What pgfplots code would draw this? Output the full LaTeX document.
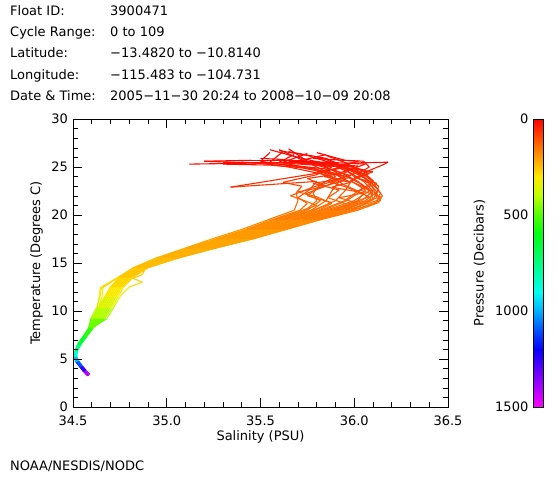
\documentclass[border=0pt]{standalone}
\usepackage{fontspec}
\setmainfont{DejaVu Sans}
\usepackage{pgfplots}
\pgfplotsset{compat=1.18}
\pgfplotsset{
  colormap={idl}{rgb255=(255,0,0) rgb255=(255,78,0) rgb255=(255,155,0) rgb255=(255,232,0) rgb255=(190,255,0) rgb255=(80,255,0) rgb255=(0,255,17) rgb255=(0,255,92) rgb255=(0,255,167) rgb255=(0,255,242) rgb255=(0,176,255) rgb255=(0,82,255) rgb255=(10,0,255) rgb255=(92,0,255) rgb255=(173,0,255) rgb255=(255,0,255)},
  prof/.style={mesh, point meta=explicit, line width=1.1bp, forget plot},
}
\begin{document}
\fontsize{13bp}{15bp}\selectfont
\begin{tikzpicture}
\path[use as bounding box] (0,0) rectangle (560bp,-480bp);
\tikzset{txt/.style={anchor=base west, inner sep=0pt}}
\node[txt] at (10bp,-15bp) {Float ID:};
\node[txt] at (110bp,-15bp) {3900471};
\node[txt] at (10bp,-36.3bp) {Cycle Range:};
\node[txt] at (110bp,-36.3bp) {0 to 109};
\node[txt] at (10bp,-57.6bp) {Latitude:};
\node[txt] at (110bp,-57.6bp) {−13.4820 to −10.8140};
\node[txt] at (10bp,-79bp) {Longitude:};
\node[txt] at (110bp,-79bp) {−115.483 to −104.731};
\node[txt] at (10bp,-100.3bp) {Date \& Time:};
\node[txt] at (110bp,-100.3bp) {2005−11−30 20:24 to 2008−10−09 20:08};
\node[txt] at (10bp,-470bp) {NOAA/NESDIS/NODC};
\begin{axis}[
  at={(73bp,-407bp)}, anchor=south west,
  scale only axis, width=375bp, height=288bp,
  xmin=34.5, xmax=36.5, ymin=0, ymax=30,
  xtick={34.5,35,35.5,36,36.5}, ytick={0,5,10,15,20,25,30},
  minor x tick num=4, minor y tick num=4,
  axis on top,
  major tick length=0.32cm, minor tick length=0.16cm,
  tick style={black, semithick},
  /pgf/number format/assume math mode=true,
  x tick label style={/pgf/number format/fixed, /pgf/number format/fixed zerofill, /pgf/number format/precision=1, anchor=base, yshift=-18bp, inner sep=0pt},
  yticklabel style={anchor=east, inner sep=0pt, xshift=-5bp},
  xlabel={Salinity (PSU)}, ylabel={Temperature (Degrees C)},
  xlabel style={at={(axis description cs:0.5,-0.118)}, anchor=base},
  ylabel style={at={(axis description cs:-0.0973,0.5)}, anchor=center},
  colormap name=idl, point meta min=0, point meta max=1500,
  colorbar,
  colorbar style={
    at={(parent axis.north east)}, anchor=north west, xshift=77bp,
    width=10bp, y dir=reverse,
    ytick={0,500,1000,1500}, yticklabels={0,500,1000,1500},
    yticklabel pos=left, ytick style={draw=none}, minor tick num=0,
    yticklabel style={anchor=east, inner sep=0pt, xshift=-5bp},
    ylabel={Pressure (Decibars)},
    ylabel style={at={(axis description cs:-5.4,0.5)}, anchor=center},
  },
]
% profile 1
\addplot[prof] coordinates {(34.58,3.3)[1480] (34.56,3.7)[1330] (34.54,4.2)[1170] (34.52,4.7)[1040] (34.51,5.2)[930] (34.515,5.8)[800] (34.53,6.5)[690] (34.56,7.3)[590] (34.59,8.2)[510] (34.62,9.2)[440] (34.655,10.3)[380] (34.69,11.5)[320] (34.72,12.5)[290] (34.77,13.5)[265] (34.86,14.5)[250] (35.00,15.5)[235] (35.17,16.5)[220] (35.35,17.5)[205] (35.52,18.5)[190] (35.68,19.5)[170] (35.85,20.5)[150] (36.00,21.5)[130] (36.08,22.5)[100] (36.02,23.5)[70] (35.92,24.5)[45] (35.80,25.2)[22] (35.70,25.6)[8]};
% profile 2
\addplot[prof] coordinates {(34.585,3.3)[1490] (34.565,3.7)[1330] (34.545,4.2)[1170] (34.525,4.7)[1040] (34.515,5.2)[930] (34.52,5.8)[800] (34.535,6.5)[690] (34.565,7.3)[590] (34.6,8.2)[510] (34.65,9.2)[440] (34.685,10.3)[380] (34.72,11.5)[320] (34.75,12.5)[290] (34.80,13.5)[265] (34.88,14.5)[250] (35.04,15.5)[235] (35.23,16.5)[220] (35.42,17.5)[205] (35.60,18.5)[190] (35.78,19.5)[170] (35.96,20.5)[150] (36.12,21.5)[130] (36.14,22.3)[108] (36.10,23.2)[78] (36.05,24.0)[54] (35.98,24.8)[33] (35.90,25.4)[15] (35.85,25.5)[6]};
% profile 3
\addplot[prof] coordinates {(34.57,3.5)[1400] (34.555,3.9)[1250] (34.535,4.4)[1110] (34.515,5.0)[970] (34.51,5.6)[840] (34.52,6.3)[720] (34.55,7.1)[610] (34.58,8.0)[525] (34.60,9.2)[440] (34.635,10.3)[380] (34.67,11.5)[320] (34.70,12.5)[290] (34.75,13.5)[265] (34.84,14.5)[250] (34.96,15.5)[235] (35.11,16.5)[220] (35.28,17.5)[205] (35.44,18.5)[190] (35.58,19.5)[170] (35.74,20.5)[150] (35.80,21.5)[130] (35.78,22.3)[108] (35.82,23.2)[85] (35.90,24.0)[62] (35.85,24.8)[38] (35.60,25.3)[18] (35.40,25.5)[8]};
% profile 4
\addplot[prof] coordinates {(34.59,3.4)[1460] (34.57,3.8)[1310] (34.55,4.3)[1150] (34.53,4.8)[1020] (34.52,5.3)[910] (34.525,5.9)[790] (34.545,6.6)[680] (34.575,7.4)[585] (34.61,8.3)[505] (34.67,9.2)[440] (34.705,10.3)[380] (34.74,11.5)[320] (34.77,12.5)[290] (34.82,13.5)[265] (34.90,14.5)[250] (35.06,15.5)[235] (35.25,16.5)[220] (35.46,17.5)[205] (35.64,18.5)[190] (35.82,19.5)[170] (36.02,20.5)[150] (36.13,21.3)[135] (36.15,22.0)[115] (36.12,22.8)[93] (36.10,23.6)[70] (36.05,24.4)[45] (36.15,25.2)[22] (36.18,25.5)[12] (35.95,25.4)[5]};
% profile 5
\addplot[prof] coordinates {(34.575,3.3)[1480] (34.555,3.7)[1330] (34.535,4.2)[1170] (34.515,4.7)[1040] (34.505,5.2)[930] (34.51,5.8)[800] (34.525,6.5)[690] (34.555,7.3)[590] (34.585,8.2)[510] (34.61,9.2)[440] (34.63,10.3)[380] (34.64,11.5)[320] (34.645,12.4)[295] (34.74,13.5)[265] (34.82,14.5)[250] (34.94,15.5)[235] (35.09,16.5)[220] (35.24,17.5)[205] (35.40,18.5)[190] (35.54,19.5)[170] (35.68,20.5)[150] (35.70,21.5)[135] (35.69,22.3)[115] (35.72,23.0)[93] (35.62,23.4)[78] (35.80,24.2)[62] (35.88,25.0)[38] (35.75,25.5)[18] (35.12,25.3)[5]};
% profile 6
\addplot[prof] coordinates {(34.545,4.0)[1230] (34.525,4.6)[1070] (34.512,5.1)[950] (34.515,5.7)[820] (34.53,6.4)[700] (34.56,7.2)[600] (34.595,8.1)[515] (34.63,9.2)[440] (34.665,10.3)[380] (34.70,11.5)[320] (34.73,12.5)[290] (34.78,13.5)[265] (34.87,14.5)[250] (35.02,15.5)[235] (35.20,16.5)[220] (35.39,17.5)[205] (35.56,18.5)[190] (35.73,19.5)[170] (35.91,20.5)[150] (36.06,21.5)[130] (36.12,22.4)[105] (36.08,23.3)[78] (36.00,24.0)[58] (35.94,24.9)[33] (35.85,25.8)[15] (35.80,26.0)[6]};
% profile 7
\addplot[prof] coordinates {(34.585,3.35)[1470] (34.565,3.75)[1320] (34.545,4.25)[1160] (34.525,4.75)[1030] (34.515,5.25)[920] (34.52,5.85)[795] (34.535,6.55)[685] (34.565,7.35)[585] (34.595,8.25)[505] (34.64,9.2)[440] (34.675,10.3)[380] (34.71,11.5)[320] (34.74,12.5)[290] (34.79,13.5)[265] (34.85,14.5)[250] (34.98,15.5)[235] (35.14,16.5)[220] (35.31,17.5)[205] (35.48,18.5)[190] (35.63,19.5)[170] (35.79,20.5)[150] (35.90,21.5)[130] (35.95,22.5)[105] (35.98,23.4)[80] (35.90,24.2)[58] (35.70,25.0)[33] (35.50,25.6)[15] (35.55,26.5)[5]};
% profile 8
\addplot[prof] coordinates {(34.565,3.6)[1370] (34.545,4.1)[1200] (34.525,4.6)[1070] (34.51,5.1)[950] (34.512,5.7)[820] (34.527,6.4)[705] (34.555,7.2)[600] (34.585,8.1)[515] (34.61,9.2)[440] (34.645,10.3)[380] (34.68,11.5)[320] (34.71,12.5)[290] (34.76,13.5)[265] (34.89,14.5)[250] (35.05,15.5)[235] (35.24,16.5)[220] (35.44,17.5)[205] (35.62,18.5)[190] (35.80,19.5)[170] (35.99,20.5)[150] (36.10,21.6)[130] (36.13,22.6)[100] (36.08,23.5)[75] (36.02,24.3)[52] (36.08,25.0)[30] (36.05,25.6)[15] (35.95,25.7)[6] (35.80,26.5)[2]};
% profile 9
\addplot[prof] coordinates {(34.58,3.3)[1480] (34.56,3.7)[1330] (34.54,4.2)[1170] (34.52,4.7)[1040] (34.51,5.2)[930] (34.515,5.8)[800] (34.53,6.5)[690] (34.56,7.3)[590] (34.59,8.2)[510] (34.66,9.2)[440] (34.695,10.3)[380] (34.73,11.5)[320] (34.76,12.5)[290] (34.81,13.5)[265] (34.83,14.5)[250] (34.95,15.5)[235] (35.10,16.5)[220] (35.26,17.5)[205] (35.42,18.5)[190] (35.56,19.5)[170] (35.71,20.5)[150] (35.75,21.2)[138] (35.70,21.8)[122] (35.76,22.6)[100] (35.80,23.5)[78] (35.34,22.9)[65] (35.85,24.5)[45] (35.75,25.5)[22] (35.60,26.8)[6]};
% profile 10
\addplot[prof] coordinates {(34.525,4.5)[1090] (34.512,5.0)[970] (34.51,5.6)[840] (34.52,6.3)[720] (34.55,7.1)[610] (34.58,8.0)[525] (34.595,9.2)[440] (34.625,10.3)[380] (34.645,11.5)[320] (34.65,12.3)[300] (34.74,13.5)[265] (34.87,14.5)[250] (35.01,15.5)[235] (35.18,16.5)[220] (35.37,17.5)[205] (35.54,18.5)[190] (35.70,19.5)[170] (35.88,20.5)[150] (36.02,21.5)[130] (36.06,22.6)[100] (35.98,23.6)[75] (36.08,24.3)[52] (36.00,25.0)[30] (35.70,25.7)[12] (35.40,25.7)[5]};
% profile 11
\addplot[prof] coordinates {(34.58,3.25)[1500] (34.56,3.65)[1340] (34.54,4.15)[1180] (34.52,4.65)[1050] (34.51,5.15)[940] (34.515,5.75)[805] (34.53,6.45)[695] (34.56,7.25)[595] (34.595,8.15)[512] (34.68,9.2)[440] (34.715,10.3)[380] (34.75,11.5)[320] (34.80,12.5)[290] (34.87,13.0)[275] (34.82,13.4)[265] (34.87,13.8)[260] (34.89,14.6)[250] (34.99,15.5)[235] (35.16,16.5)[220] (35.33,17.5)[205] (35.50,18.5)[190] (35.66,19.5)[170] (35.82,20.5)[150] (35.95,21.5)[130] (36.02,22.5)[102] (36.10,23.4)[78] (36.05,24.3)[54] (35.95,25.0)[33] (35.85,25.9)[15] (35.65,26.6)[5]};
% profile 12
\addplot[prof] coordinates {(34.56,3.8)[1300] (34.54,4.3)[1150] (34.52,4.8)[1020] (34.512,5.3)[910] (34.518,5.9)[790] (34.535,6.6)[680] (34.565,7.4)[585] (34.595,8.3)[505] (34.62,9.2)[440] (34.655,10.3)[380] (34.69,11.5)[320] (34.72,12.5)[290] (34.77,13.5)[265] (34.88,14.5)[250] (35.03,15.5)[235] (35.21,16.5)[220] (35.40,17.5)[205] (35.58,18.5)[190] (35.75,19.5)[170] (35.93,20.5)[150] (36.08,21.5)[130] (36.10,22.4)[105] (36.04,23.2)[80] (35.96,24.0)[62] (36.05,24.7)[42] (35.92,25.3)[22] (35.60,25.8)[9] (35.50,25.9)[3]};
% profile 13
\addplot[prof] coordinates {(34.58,3.3)[1480] (34.56,3.7)[1330] (34.54,4.2)[1170] (34.52,4.7)[1040] (34.51,5.2)[930] (34.515,5.8)[800] (34.53,6.5)[690] (34.56,7.3)[590] (34.59,8.2)[510] (34.61,9.2)[440] (34.645,10.3)[380] (34.68,11.5)[320] (34.71,12.5)[290] (34.76,13.5)[265] (34.84,14.5)[250] (34.97,15.5)[235] (35.13,16.5)[220] (35.30,17.5)[205] (35.46,18.5)[190] (35.61,19.5)[170] (35.77,20.5)[150] (35.85,21.5)[130] (35.88,22.5)[105] (35.92,23.5)[80] (35.82,24.3)[58] (35.65,25.0)[38] (35.50,25.4)[21] (35.20,25.6)[9] (35.45,25.7)[3]};
% profile 14
\addplot[prof] coordinates {(34.54,4.2)[1170] (34.52,4.7)[1040] (34.512,5.2)[930] (34.518,5.8)[800] (34.535,6.5)[690] (34.565,7.3)[590] (34.60,8.2)[510] (34.64,9.2)[440] (34.675,10.3)[380] (34.71,11.5)[320] (34.74,12.5)[290] (34.79,13.5)[265] (34.89,14.5)[250] (35.05,15.5)[235] (35.23,16.5)[220] (35.43,17.5)[205] (35.61,18.5)[190] (35.79,19.5)[170] (35.98,20.5)[150] (36.12,21.8)[126] (36.10,22.8)[96] (36.06,23.8)[70] (35.98,24.6)[45] (35.90,25.3)[24] (35.75,26.2)[9] (35.60,26.7)[3]};
% profile 15
\addplot[prof] coordinates {(34.585,3.3)[1480] (34.565,3.7)[1330] (34.545,4.2)[1170] (34.525,4.7)[1040] (34.515,5.2)[930] (34.52,5.8)[800] (34.535,6.5)[690] (34.565,7.3)[590] (34.60,8.2)[510] (34.65,9.2)[440] (34.685,10.3)[380] (34.72,11.5)[320] (34.75,12.5)[290] (34.80,13.5)[265] (34.85,14.5)[250] (34.98,15.5)[235] (35.14,16.5)[220] (35.31,17.5)[205] (35.47,18.5)[190] (35.62,19.5)[170] (35.78,20.5)[150] (35.88,21.3)[135] (35.75,22.0)[120] (35.80,22.8)[96] (35.95,23.6)[75] (35.90,24.5)[48] (35.80,25.5)[22] (35.40,25.5)[9] (35.30,25.5)[3]};
% profile 16
\addplot[prof] coordinates {(34.555,3.9)[1260] (34.535,4.4)[1110] (34.518,4.9)[1000] (34.51,5.4)[880] (34.515,6.0)[770] (34.53,6.7)[670] (34.56,7.5)[575] (34.59,8.4)[500] (34.605,9.2)[440] (34.64,10.3)[380] (34.675,11.5)[320] (34.70,12.5)[290] (34.75,13.5)[265] (34.87,14.5)[250] (35.02,15.5)[235] (35.19,16.5)[220] (35.38,17.5)[205] (35.55,18.5)[190] (35.72,19.5)[170] (35.89,20.5)[150] (36.04,21.5)[130] (36.10,22.5)[102] (36.05,23.5)[75] (35.98,24.4)[50] (35.88,25.2)[27] (35.70,26.0)[10] (35.55,26.8)[3]};
% profile 17
\addplot[prof] coordinates {(34.51,5.2)[930] (34.517,5.8)[800] (34.533,6.5)[690] (34.563,7.3)[590] (34.595,8.2)[510] (34.63,9.2)[440] (34.665,10.3)[380] (34.70,11.5)[320] (34.73,12.5)[290] (34.78,13.5)[265] (34.88,14.5)[250] (35.035,15.5)[235] (35.22,16.5)[220] (35.41,17.5)[205] (35.59,18.5)[190] (35.76,19.5)[170] (35.95,20.5)[150] (36.10,21.7)[128] (36.08,22.7)[97] (35.98,23.5)[75] (36.05,24.2)[55] (35.95,24.9)[35] (35.75,25.6)[15] (35.65,26.9)[3]};
% profile 18
\addplot[prof] coordinates {(34.58,3.3)[1480] (34.56,3.7)[1330] (34.54,4.2)[1170] (34.52,4.7)[1040] (34.51,5.2)[930] (34.515,5.8)[800] (34.53,6.5)[690] (34.56,7.3)[590] (34.59,8.2)[510] (34.62,9.2)[440] (34.655,10.3)[380] (34.69,11.5)[320] (34.72,12.5)[290] (34.77,13.5)[265] (34.84,14.5)[250] (34.965,15.5)[235] (35.12,16.5)[220] (35.29,17.5)[205] (35.45,18.5)[190] (35.60,19.5)[170] (35.75,20.5)[150] (35.82,21.5)[130] (35.74,22.2)[110] (35.86,23.1)[87] (35.95,24.0)[62] (35.78,24.8)[40] (35.60,25.5)[18] (35.68,26.3)[5]};
% profile 19
\addplot[prof] coordinates {(34.545,4.2)[1170] (34.525,4.7)[1040] (34.515,5.2)[930] (34.52,5.8)[800] (34.54,6.5)[690] (34.57,7.3)[590] (34.605,8.2)[510] (34.66,9.2)[440] (34.695,10.3)[380] (34.73,11.5)[320] (34.76,12.5)[290] (34.81,13.5)[265] (34.89,14.5)[250] (35.055,15.5)[235] (35.25,16.5)[220] (35.45,17.5)[205] (35.63,18.5)[190] (35.81,19.5)[170] (36.00,20.5)[150] (36.14,21.5)[130] (36.12,22.2)[110] (36.13,23.0)[90] (36.08,23.8)[68] (36.02,24.6)[45] (35.96,25.4)[22] (35.85,26.2)[8]};
% profile 20
\addplot[prof] coordinates {(34.575,3.4)[1450] (34.555,3.8)[1300] (34.535,4.3)[1150] (34.515,4.8)[1020] (34.508,5.3)[910] (34.513,5.9)[790] (34.528,6.6)[680] (34.558,7.4)[585] (34.588,8.3)[505] (34.60,9.2)[440] (34.635,10.3)[380] (34.67,11.5)[320] (34.70,12.5)[290] (34.75,13.5)[265] (34.857,14.5)[250] (34.995,15.5)[235] (35.163,16.5)[220] (35.341,17.5)[205] (35.51,18.5)[190] (35.668,19.5)[170] (35.836,20.5)[150] (35.96,21.5)[130] (36.03,22.4)[105] (35.94,23.2)[84] (35.88,24.0)[65] (35.80,24.8)[42] (35.55,25.2)[24] (35.30,25.3)[9]};
% profile 21
\addplot[prof] coordinates {(34.53,6.5)[690] (34.56,7.3)[590] (34.6,8.2)[510] (34.64,9.2)[440] (34.675,10.3)[380] (34.71,11.5)[320] (34.745,12.5)[290] (34.79,13.5)[265] (34.88,14.5)[250] (35.03,15.5)[235] (35.21,16.5)[220] (35.40,17.5)[205] (35.57,18.5)[190] (35.74,19.5)[170] (35.92,20.5)[150] (35.98,21.0)[140] (35.86,21.8)[122] (35.92,22.6)[102] (35.78,23.3)[85] (35.98,23.9)[68] (35.85,24.6)[48] (36.0,25.1)[30] (35.7,25.4)[15] (35.9,25.5)[5]};
% profile 22
\addplot[prof] coordinates {(34.58,3.3)[1480] (34.56,3.7)[1330] (34.54,4.2)[1170] (34.52,4.7)[1040] (34.51,5.2)[930] (34.515,5.8)[800] (34.53,6.5)[690] (34.56,7.3)[590] (34.59,8.2)[510] (34.63,9.2)[440] (34.665,10.3)[380] (34.70,11.5)[320] (34.73,12.5)[290] (34.78,13.5)[265] (34.85,14.5)[250] (34.985,15.5)[235] (35.15,16.5)[220] (35.32,17.5)[205] (35.49,18.5)[190] (35.64,19.5)[170] (35.81,20.5)[150] (35.88,21.2)[138] (35.80,21.9)[120] (35.70,22.4)[108] (35.85,23.0)[90] (35.75,23.8)[72] (35.95,24.4)[54] (36.02,25.1)[33] (35.70,25.6)[15] (35.85,26.3)[5]};
% profile 23
\addplot[prof] coordinates {(34.54,4.2)[1170] (34.52,4.7)[1040] (34.51,5.2)[930] (34.515,5.8)[800] (34.53,6.5)[690] (34.56,7.3)[590] (34.59,8.2)[510] (34.61,9.2)[440] (34.645,10.3)[380] (34.68,11.5)[320] (34.71,12.5)[290] (34.76,13.5)[265] (34.863,14.5)[250] (35.005,15.5)[235] (35.177,16.5)[220] (35.359,17.5)[205] (35.53,18.5)[190] (35.692,19.5)[170] (35.864,20.5)[150] (35.95,21.0)[140] (36.08,21.9)[120] (35.96,22.9)[93] (35.86,23.5)[78] (35.98,24.1)[62] (35.88,24.7)[45] (35.96,25.2)[30] (35.62,25.5)[15] (35.75,26.4)[5]};
% profile 24
\addplot[prof] coordinates {(34.52,4.7)[1040] (34.512,5.2)[930] (34.518,5.8)[800] (34.535,6.5)[690] (34.565,7.3)[590] (34.6,8.2)[510] (34.65,9.2)[440] (34.685,10.3)[380] (34.72,11.5)[320] (34.75,12.5)[290] (34.80,13.5)[265] (34.89,14.5)[250] (35.05,15.5)[235] (35.24,16.5)[220] (35.44,17.5)[205] (35.62,18.5)[190] (35.80,19.5)[170] (35.99,20.5)[150] (36.11,21.2)[138] (36.14,21.9)[120] (36.03,22.6)[102] (36.12,23.3)[84] (36.00,23.9)[68] (36.10,24.5)[50] (35.92,25.0)[33] (36.02,25.6)[15] (35.78,25.9)[5]};
% profile 25
\addplot[prof] coordinates {(34.58,3.3)[1480] (34.56,3.7)[1330] (34.54,4.2)[1170] (34.52,4.7)[1040] (34.51,5.2)[930] (34.515,5.8)[800] (34.53,6.5)[690] (34.56,7.3)[590] (34.59,8.2)[510] (34.60,9.2)[440] (34.635,10.3)[380] (34.655,11.5)[320] (34.66,12.6)[290] (34.75,13.5)[265] (34.83,14.5)[250] (34.955,15.5)[235] (35.107,16.5)[220] (35.269,17.5)[205] (35.43,18.5)[190] (35.572,19.5)[170] (35.724,20.5)[150] (35.80,21.0)[140] (35.72,21.6)[126] (35.66,22.0)[116] (35.78,22.9)[93] (35.92,23.7)[73] (35.80,24.5)[52] (35.95,25.0)[36] (35.55,25.5)[18] (35.62,26.6)[5]};
% profile 26
\addplot[prof] coordinates {(34.54,4.2)[1170] (34.52,4.7)[1040] (34.51,5.2)[930] (34.515,5.8)[800] (34.53,6.5)[690] (34.56,7.3)[590] (34.59,8.2)[510] (34.62,9.2)[440] (34.655,10.3)[380] (34.69,11.5)[320] (34.72,12.5)[290] (34.77,13.5)[265] (34.872,14.5)[250] (35.02,15.5)[235] (35.198,16.5)[220] (35.386,17.5)[205] (35.56,18.5)[190] (35.728,19.5)[170] (35.906,20.5)[150] (36.02,21.2)[138] (35.92,21.8)[122] (36.05,22.3)[110] (35.88,22.9)[96] (35.98,23.4)[80] (35.84,24.0)[65] (35.96,24.6)[48] (36.06,25.3)[27] (35.85,25.5)[12] (35.65,25.6)[5]};
\end{axis}
\end{tikzpicture}
\end{document}
